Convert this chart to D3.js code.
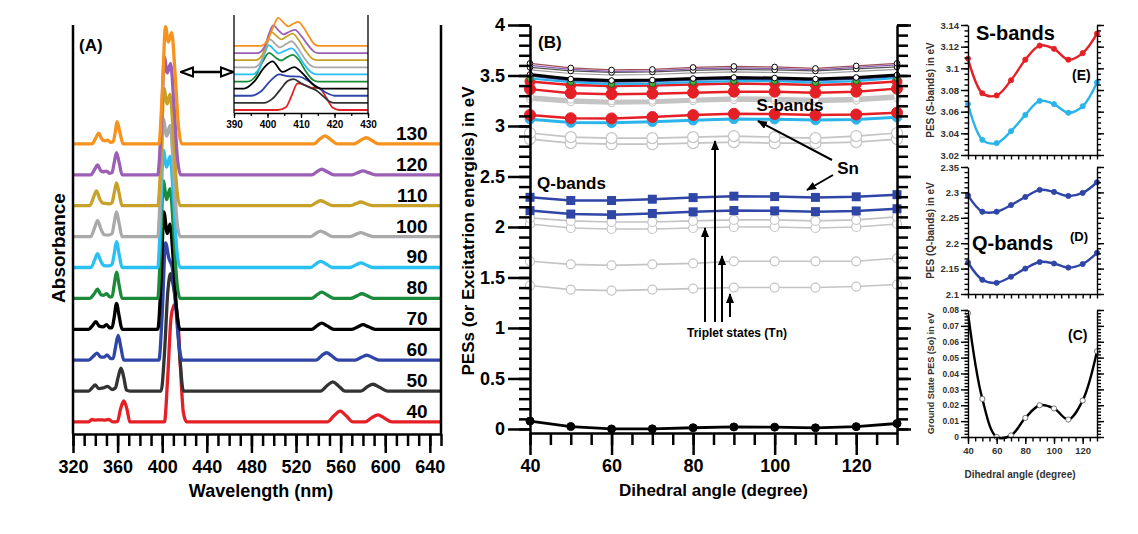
<!DOCTYPE html>
<html><head><meta charset="utf-8">
<script src="https://cdn.jsdelivr.net/npm/d3@7"></script>
<style>
body{margin:0;background:#fff;}
svg{display:block;font-family:"Liberation Sans",Arial,sans-serif;font-weight:bold;}
</style></head><body>
<svg id="c" width="1138" height="534"></svg>
<script>
// ---------------- DATA ----------------
const angles = [40,50,60,70,80,90,100,110,120,130];
const traceColors = ["#e41f26","#333333","#2f46a6","#000000","#1b8a3a","#2ac0f2","#a9a9a9","#c8a228","#9b5fb5","#f7921e"];
const wlTicks = [320,360,400,440,480,520,560,600,640];
const insetTicks = [390,400,410,420,430];

// Panel A spectra: [wavelength nm, absorbance above own baseline]
const s40 = [[320,0],[334,0],[337,0.08],[340,0.06],[344,0.07],[348,0.06],[352,0.08],[356,0],[360,0.02],[362.5,0.4],[365.5,0.68],[368.5,0.4],[371,0],[402,0],[405,1.5],[408,3.4],[411,3.8],[414,3.3],[416,2.0],[419,0.3],[422,0],[548,0],[554,0.2],[559.5,0.35],[565,0.2],[571,0],[582,0],[588,0.14],[593.5,0.23],[599,0.13],[606,0],[650,0]];
const s50 = [[320,0],[334,0],[337,0.1],[340,0.2],[343,0.08],[347,0.1],[351,0.15],[355,0.05],[358,0.1],[360.5,0.45],[363,0.74],[365.5,0.45],[368,0.03],[371,0],[399,0],[402,1.2],[405,3.2],[407.5,3.8],[410,3.4],[413,2.6],[416,1.0],[419,0],[542,0],[548,0.18],[553,0.3],[558,0.17],[564,0],[578,0],[584,0.14],[589,0.22],[595,0.12],[602,0],[650,0]];
const s60 = [[320,0],[334,0],[338,0.12],[341.5,0.23],[345,0.1],[348,0.1],[350.5,0.17],[354,0.05],[356,0.05],[358,0.4],[360.5,0.8],[363,0.4],[365.5,0],[397,0],[400,1.5],[403,3.8],[406,3.3],[409,3.0],[412,1.8],[415,0.5],[418,0],[538,0],[543,0.15],[547.5,0.24],[552,0.14],[558,0],[573,0],[579,0.1],[583.5,0.16],[589,0.08],[595,0],[650,0]];
const s70 = [[320,0],[334,0],[337.5,0.12],[340.5,0.25],[343.5,0.1],[347,0.08],[350,0.15],[353,0.05],[355,0.05],[357,0.4],[359,0.84],[361.5,0.4],[364,0],[396,0],[399,1.6],[401.5,3.8],[404.5,3.1],[407,3.4],[410,2.2],[413,0.6],[416,0],[534,0],[539,0.12],[543,0.2],[548,0.11],[554,0],[570,0],[576,0.09],[580,0.15],[585,0.08],[591,0],[650,0]];
const s80 = [[320,0],[335,0],[339,0.15],[342,0.3],[345,0.12],[347.5,0.1],[350,0.15],[353,0.05],[355,0.05],[357,0.45],[359,0.85],[361.5,0.4],[364,0],[396,0],[398.5,1.6],[401,3.8],[404,3.2],[407,3.55],[410,2.3],[413,0.6],[416,0],[534,0],[539,0.12],[543,0.2],[548,0.11],[554,0],[569,0],[575,0.09],[579,0.15],[584,0.08],[590,0],[650,0]];
const s90 = [[320,0],[336,0],[339.5,0.25],[342,0.45],[345,0.2],[348,0.06],[351,0.05],[353,0.06],[355,0.1],[357,0.45],[359,0.84],[361.5,0.4],[364,0],[396,0],[398.5,1.6],[401,3.8],[404,3.25],[407,3.6],[410,2.3],[413,0.6],[416,0],[533,0],[538,0.12],[542,0.2],[547,0.11],[553,0],[568,0],[574,0.09],[578,0.15],[583,0.08],[589,0],[650,0]];
const s100 = [[320,0],[336,0],[339.5,0.3],[342,0.52],[345,0.25],[348,0.06],[351,0.05],[353,0.06],[355,0.1],[357,0.45],[359,0.8],[361.5,0.4],[364,0],[396,0],[398.5,1.6],[401,3.8],[404,3.25],[407,3.6],[410,2.3],[413,0.6],[416,0],[533,0],[538,0.11],[542,0.18],[547,0.1],[553,0],[568,0],[574,0.08],[578,0.13],[583,0.07],[589,0],[650,0]];
const s110 = [[320,0],[335,0],[338.5,0.28],[341,0.48],[344,0.22],[347,0.08],[350,0.07],[353,0.06],[355,0.1],[357,0.42],[359,0.74],[361.5,0.38],[364,0],[396,0],[399,1.6],[401.5,3.8],[404.5,3.3],[407,3.6],[410,2.3],[413,0.6],[416,0],[533,0],[538,0.1],[542,0.16],[547,0.09],[553,0],[568,0],[574,0.07],[578,0.12],[583,0.06],[589,0],[650,0]];
const s120 = [[320,0],[336,0],[339.5,0.18],[342,0.32],[345,0.13],[347.5,0.1],[350,0.12],[353,0.05],[355,0.07],[357,0.4],[359,0.72],[361.5,0.38],[364,0],[396,0],[399,1.5],[402,3.8],[404.5,3.3],[407.5,3.6],[410.5,2.3],[413.5,0.6],[416.5,0],[534,0],[539,0.11],[543,0.18],[548,0.1],[554,0],[570,0],[576,0.08],[580,0.13],[585,0.07],[591,0],[650,0]];
const s130 = [[320,0],[337,0],[340.5,0.2],[343,0.35],[346,0.15],[348.5,0.1],[351,0.12],[354,0.05],[356,0.08],[358,0.4],[359.5,0.72],[362,0.38],[365,0],[397,0],[400,1.6],[403,3.8],[405.5,3.3],[408.5,3.6],[411.5,2.3],[414.5,0.6],[417.5,0],[536,0],[541,0.15],[546,0.26],[551,0.14],[557,0],[572,0],[578,0.12],[583,0.2],[588,0.11],[594,0],[650,0]];

// Inset (Soret region, normalised)
const i40 = [[390,0],[403,0],[405.5,0.1],[407,0.45],[409,0.95],[411,0.9],[413,0.8],[415.5,0.78],[417.5,0.45],[419.5,0.08],[421.5,0],[430,0]];
const i50 = [[390,0],[399,0],[401.5,0.15],[404,0.5],[406,0.78],[407.8,0.85],[410,0.7],[412.5,0.55],[414.5,0.45],[416.5,0.25],[418.5,0.05],[420,0],[430,0]];
const i60 = [[390,0],[395,0],[398,0.15],[401,0.55],[403.5,0.76],[406,0.7],[409.5,0.68],[412,0.55],[415,0.3],[418,0.08],[420,0],[430,0]];
const i70 = [[390,0],[393,0],[396,0.25],[399,0.75],[401.5,0.97],[404.5,0.6],[408,0.77],[410,0.6],[412,0.35],[414,0.1],[416,0],[430,0]];
const i80 = [[390,0],[394,0],[396.5,0.2],[398.5,0.7],[400.5,1.02],[402.5,0.85],[404,0.75],[406,0.88],[407.5,0.95],[409.5,0.75],[411.5,0.35],[413.5,0.06],[415,0],[430,0]];
const i90 = [[390,0],[395.5,0],[397.5,0.2],[399,0.7],[400.4,1.04],[401.8,0.9],[403.2,0.75],[405.3,0.85],[407.2,0.93],[409,0.72],[411,0.35],[413,0.08],[414.7,0],[430,0]];
const i100 = [[390,0],[396,0],[398,0.2],[399.5,0.7],[400.7,1.0],[402.2,0.85],[403.7,0.71],[405.5,0.83],[407.2,0.93],[409,0.7],[411,0.33],[412.8,0.07],[414.2,0],[430,0]];
const i110 = [[390,0],[396.5,0],[398.5,0.2],[400,0.7],[401.2,1.0],[402.7,0.86],[404.2,0.74],[405.9,0.86],[407.5,0.95],[409.3,0.72],[411.3,0.34],[413.2,0.07],[414.7,0],[430,0]];
const i120 = [[390,0],[397,0],[399,0.2],[400.5,0.7],[401.7,0.99],[403.2,0.82],[404.7,0.67],[406.5,0.76],[408.2,0.83],[410,0.62],[412,0.3],[413.8,0.06],[415.2,0],[430,0]];
const i130 = [[390,0],[398,0],[400,0.2],[401.8,0.7],[403.2,1.0],[404.7,0.84],[406.2,0.7],[407.8,0.8],[409.2,0.86],[410.8,0.65],[412.6,0.3],[414,0.06],[415.3,0],[430,0]];

// Panel B: potential energy surfaces (eV) vs dihedral angle
const groundS0 = [0.078,0.024,0.0,0.001,0.012,0.020,0.018,0.011,0.023,0.054];
const qUpper = [2.294,2.262,2.262,2.275,2.291,2.305,2.301,2.293,2.299,2.32];
const qLower = [2.162,2.128,2.122,2.134,2.15,2.163,2.16,2.152,2.159,2.181];
const sRed = [3.109,3.077,3.075,3.089,3.108,3.121,3.118,3.108,3.114,3.132];
const sCyan = [3.067,3.034,3.031,3.042,3.057,3.07,3.067,3.059,3.065,3.087];
const t1 = [1.42,1.38,1.37,1.38,1.39,1.40,1.40,1.40,1.41,1.43];
const t2 = [1.66,1.63,1.62,1.63,1.64,1.66,1.66,1.66,1.66,1.69];
const t3 = [2.03,1.99,1.98,1.98,1.99,2.00,2.00,1.99,2.00,2.03];
const t4 = [2.09,2.06,2.05,2.05,2.06,2.07,2.07,2.06,2.07,2.10];
const t5 = [2.87,2.83,2.82,2.82,2.83,2.84,2.83,2.83,2.84,2.87];
const t6 = [2.93,2.89,2.88,2.88,2.89,2.90,2.89,2.88,2.90,2.93];
const hGray1 = [3.265,3.235,3.225,3.23,3.245,3.255,3.25,3.24,3.25,3.275];
const hGray2 = [3.29,3.26,3.245,3.25,3.265,3.28,3.275,3.265,3.275,3.3];
const hRed2 = [3.365,3.325,3.315,3.32,3.33,3.34,3.34,3.33,3.34,3.37];
const hRed1 = [3.44,3.405,3.395,3.4,3.41,3.42,3.415,3.405,3.415,3.44];
const hCyan = [3.47,3.435,3.415,3.42,3.435,3.445,3.445,3.43,3.445,3.475];
const hBlue = [3.495,3.45,3.435,3.44,3.455,3.465,3.46,3.45,3.465,3.49];
const hBlack = [3.51,3.465,3.45,3.455,3.47,3.48,3.475,3.465,3.48,3.505];
const hThinD = [3.555,3.52,3.505,3.51,3.525,3.535,3.53,3.52,3.54,3.56];
const hThinC = [3.58,3.545,3.53,3.535,3.55,3.56,3.555,3.545,3.565,3.585];
const hThinB = [3.60,3.56,3.54,3.545,3.565,3.575,3.57,3.555,3.58,3.605];
const hThinA = [3.62,3.575,3.555,3.56,3.58,3.59,3.585,3.57,3.595,3.62];

const bYTicks = [0,0.5,1,1.5,2,2.5,3,3.5,4];
const bXTicks = [40,60,80,100,120];
const eTicks = [3.02,3.04,3.06,3.08,3.1,3.12,3.14];
const dTicks = [2.1,2.15,2.2,2.25,2.3,2.35];
const cTicks = [0,0.01,0.02,0.03,0.04,0.05,0.06,0.07,0.08];

// ---------------- DRAW ----------------
const svg = d3.select("#c");

const defs = svg.append("defs");
defs.append("marker").attr("id","ah").attr("viewBox","0 0 10 8").attr("refX",9).attr("refY",4)
  .attr("markerWidth",10).attr("markerHeight",8).attr("markerUnits","userSpaceOnUse").attr("orient","auto")
  .append("path").attr("d","M0,0L10,4L0,8Z").attr("fill","#000");
defs.append("marker").attr("id","oh").attr("viewBox","0 0 14 12").attr("refX",13).attr("refY",6)
  .attr("markerWidth",14).attr("markerHeight",12).attr("markerUnits","userSpaceOnUse").attr("orient","auto-start-reverse")
  .append("path").attr("d","M1,1.5L13,6L1,10.5Z").attr("fill","#fff").attr("stroke","#000").attr("stroke-width",2);

function styleAxis(g, w){
  g.selectAll("path,line").attr("stroke","#000").attr("stroke-width",w);
  g.selectAll("text").attr("fill","#000").attr("font-family","Liberation Sans, Arial, sans-serif").attr("font-weight","bold");
}

// ===== Panel A =====
const xA = d3.scaleLinear().domain([320,650]).range([73,441]);
const yA = d3.scaleLinear().domain([-0.39,12.85]).range([434,25]);
const spectra = [s40,s50,s60,s70,s80,s90,s100,s110,s120,s130];
const gA = svg.append("g");
spectra.forEach((s,i)=>{
  const ln = d3.line().x(d=>xA(d[0])).y(d=>yA(d[1]+i)).curve(d3.curveMonotoneX);
  gA.append("path").attr("d",ln(s)).attr("fill","none").attr("stroke",traceColors[i]).attr("stroke-width",3.3).attr("stroke-linejoin","round");
});
angles.forEach((a,i)=>{
  gA.append("text").attr("x",xA(630)+9).attr("y",yA(i)-4).attr("text-anchor","end").attr("font-size",19).text(a);
});
gA.append("line").attr("x1",xA(320)).attr("x2",xA(320)).attr("y1",yA(12.85)).attr("y2",yA(-0.39)).attr("stroke","#000").attr("stroke-width",2.5);
gA.append("line").attr("x1",xA(650)).attr("x2",xA(650)).attr("y1",yA(12.85)).attr("y2",yA(-0.39)).attr("stroke","#000").attr("stroke-width",2.5);
const axAminor = svg.append("g").attr("transform",`translate(0,${yA(-0.39)})`)
  .call(d3.axisBottom(xA).tickValues(d3.range(320,651,10)).tickSize(12).tickSizeOuter(0).tickFormat(""));
styleAxis(axAminor,2.5);
const axAmajor = svg.append("g").attr("transform",`translate(0,${yA(-0.39)})`)
  .call(d3.axisBottom(xA).tickValues(wlTicks).tickSize(19).tickSizeOuter(0).tickPadding(7).tickFormat(d=>d));
styleAxis(axAmajor,2.5);
axAmajor.selectAll("text").attr("font-size",18);
axAmajor.select(".domain").remove();
svg.append("text").attr("x",(xA(320)+xA(650))/2+4).attr("y",497).attr("text-anchor","middle").attr("font-size",18).text("Wavelength (nm)");
svg.append("text").attr("transform",`translate(65,248) rotate(-90)`).attr("text-anchor","middle").attr("font-size",19).text("Absorbance");
svg.append("text").attr("x",79).attr("y",51).attr("font-size",17).text("(A)");

// inset
const xI = d3.scaleLinear().domain([390,430]).range([234,368]);
const yI = d3.scaleLinear().domain([-0.107,3.39]).range([113,15]);
const insets = [i40,i50,i60,i70,i80,i90,i100,i110,i120,i130];
insets.forEach((s,i)=>{
  const ln = d3.line().x(d=>xI(d[0])).y(d=>yI(d[1]+i*0.254)).curve(d3.curveMonotoneX);
  svg.append("path").attr("d",ln(s)).attr("fill","none").attr("stroke",traceColors[i]).attr("stroke-width",1.8);
});
svg.append("line").attr("x1",xI(390)).attr("x2",xI(390)).attr("y1",yI(3.39)).attr("y2",yI(-0.107)).attr("stroke","#000").attr("stroke-width",1.3);
svg.append("line").attr("x1",xI(430)).attr("x2",xI(430)).attr("y1",yI(3.39)).attr("y2",yI(-0.107)).attr("stroke","#000").attr("stroke-width",1.3);
const axI1 = svg.append("g").attr("transform",`translate(0,${yI(-0.107)})`)
  .call(d3.axisBottom(xI).tickValues(d3.range(390,431,5)).tickSize(3).tickSizeOuter(0).tickFormat(""));
styleAxis(axI1,1.3);
const axI2 = svg.append("g").attr("transform",`translate(0,${yI(-0.107)})`)
  .call(d3.axisBottom(xI).tickValues(insetTicks).tickSize(5).tickSizeOuter(0).tickPadding(3).tickFormat(d=>d));
styleAxis(axI2,1.3);
axI2.selectAll("text").attr("font-size",10);
axI2.select(".domain").remove();
svg.append("line").attr("x1",181).attr("x2",233).attr("y1",72).attr("y2",72).attr("stroke","#000").attr("stroke-width",2.5)
  .attr("marker-start","url(#oh)").attr("marker-end","url(#oh)");

// ===== Panel B =====
const xB = d3.scaleLinear().domain([40,130]).range([530,897]);
const yB = d3.scaleLinear().domain([-0.04,4]).range([433,25]);
const gB = svg.append("g");
function seriesB(vals, o){
  const pts = vals.map((v,i)=>[angles[i],v]);
  const ln = d3.line().x(d=>xB(d[0])).y(d=>yB(d[1]));
  gB.append("path").attr("d",ln(pts)).attr("fill","none").attr("stroke",o.stroke).attr("stroke-width",o.w);
  if(o.marker==="circle"){
    gB.selectAll(null).data(pts).enter().append("circle").attr("cx",d=>xB(d[0])).attr("cy",d=>yB(d[1]))
      .attr("r",o.r).attr("fill",o.fill).attr("stroke",o.mstroke).attr("stroke-width",o.mw||1);
  } else if(o.marker==="square"){
    gB.selectAll(null).data(pts).enter().append("rect").attr("x",d=>xB(d[0])-o.r).attr("y",d=>yB(d[1])-o.r)
      .attr("width",2*o.r).attr("height",2*o.r).attr("fill",o.fill);
  }
}
const triStyle = {stroke:"#c4c4c4",w:1.6,marker:"circle",r:4.5,fill:"#fff",mstroke:"#c4c4c4",mw:1.2};
seriesB(t1,triStyle); seriesB(t2,triStyle); seriesB(t3,triStyle); seriesB(t4,triStyle);
seriesB(t5,Object.assign({},triStyle,{r:5.5})); seriesB(t6,Object.assign({},triStyle,{r:5.5}));
seriesB(qLower,{stroke:"#2f46a6",w:2.5,marker:"square",r:4.5,fill:"#2f46a6"});
seriesB(qUpper,{stroke:"#2f46a6",w:2.5,marker:"square",r:4.5,fill:"#2f46a6"});
seriesB(hGray1,{stroke:"#c4c4c4",w:3,marker:"circle",r:3.5,fill:"#fff",mstroke:"#c4c4c4"});
seriesB(hGray2,{stroke:"#c4c4c4",w:3,marker:"circle",r:3.5,fill:"#fff",mstroke:"#c4c4c4"});
seriesB(sCyan,{stroke:"#2ab4ea",w:3,marker:"circle",r:4.8,fill:"#2ab4ea",mstroke:"#2ab4ea"});
seriesB(sRed,{stroke:"#e41f26",w:2.5,marker:"circle",r:5.5,fill:"#e41f26",mstroke:"#e41f26"});
seriesB(hRed2,{stroke:"#e41f26",w:2.5,marker:"circle",r:5.5,fill:"#e41f26",mstroke:"#e41f26"});
seriesB(hRed1,{stroke:"#e41f26",w:2.5,marker:"circle",r:5,fill:"#e41f26",mstroke:"#e41f26"});
seriesB(hCyan,{stroke:"#2ab4ea",w:2.2,marker:"circle",r:3.2,fill:"#4cae3c",mstroke:"#1d5e1d"});
seriesB(hBlue,{stroke:"#2f46a6",w:1.5});
seriesB(hBlack,{stroke:"#000",w:3,marker:"circle",r:2.8,fill:"#fff",mstroke:"#000"});
seriesB(hThinD,{stroke:"#9a9a9a",w:1.2});
seriesB(hThinC,{stroke:"#555",w:1.2,marker:"circle",r:2.8,fill:"#fff",mstroke:"#000"});
seriesB(hThinB,{stroke:"#8a5fb0",w:1.3});
seriesB(hThinA,{stroke:"#a0505a",w:1.2,marker:"circle",r:2.8,fill:"#fff",mstroke:"#000"});
seriesB(groundS0,{stroke:"#000",w:2.8,marker:"circle",r:4,fill:"#000",mstroke:"#000"});

const axBLmin = svg.append("g").attr("transform",`translate(${xB(40)},0)`)
  .call(d3.axisLeft(yB).tickValues(d3.range(0,41,1).map(v=>v/10)).tickSize(11).tickSizeOuter(0).tickFormat(""));
styleAxis(axBLmin,2.5);
const axBL = svg.append("g").attr("transform",`translate(${xB(40)},0)`)
  .call(d3.axisLeft(yB).tickValues(bYTicks).tickSize(22).tickSizeOuter(0).tickPadding(3).tickFormat(d=>d));
styleAxis(axBL,2.5); axBL.select(".domain").remove(); axBL.selectAll("text").attr("font-size",18);
const axBRmin = svg.append("g").attr("transform",`translate(${xB(130)},0)`)
  .call(d3.axisRight(yB).tickValues(d3.range(0,41,1).map(v=>v/10)).tickSize(11).tickSizeOuter(0).tickFormat(""));
styleAxis(axBRmin,2.5);
const axBR = svg.append("g").attr("transform",`translate(${xB(130)},0)`)
  .call(d3.axisRight(yB).tickValues(bYTicks).tickSize(14).tickSizeOuter(0).tickFormat(""));
styleAxis(axBR,2.5); axBR.select(".domain").remove();
const axBBmin = svg.append("g").attr("transform",`translate(0,${yB(-0.04)})`)
  .call(d3.axisBottom(xB).tickValues(d3.range(40,131,5)).tickSize(12).tickSizeOuter(0).tickFormat(""));
styleAxis(axBBmin,2.5);
const axBB = svg.append("g").attr("transform",`translate(0,${yB(-0.04)})`)
  .call(d3.axisBottom(xB).tickValues(bXTicks).tickSize(22).tickSizeOuter(0).tickPadding(4).tickFormat(d=>d));
styleAxis(axBB,2.5); axBB.select(".domain").remove(); axBB.selectAll("text").attr("font-size",18);

svg.append("text").attr("x",(xB(40)+xB(130))/2).attr("y",496).attr("text-anchor","middle").attr("font-size",17).text("Dihedral angle (degree)");
svg.append("text").attr("transform",`translate(474,231) rotate(-90)`).attr("text-anchor","middle").attr("font-size",17).text("PESs (or Excitatrion energies) in eV");
svg.append("text").attr("x",538).attr("y",48).attr("font-size",17).text("(B)");
svg.append("text").attr("x",790).attr("y",111).attr("text-anchor","middle").attr("font-size",17).text("S-bands");
svg.append("text").attr("x",537).attr("y",189).attr("font-size",17).text("Q-bands");
svg.append("text").attr("x",848).attr("y",174).attr("text-anchor","middle").attr("font-size",17).text("Sn");
svg.append("text").attr("x",737).attr("y",337).attr("text-anchor","middle").attr("font-size",12).text("Triplet states (Tn)");
const arrows = [[832,160,758,121],[833,175,807,190],[705,322,705,228],[715,322,715,141],[722,322,722,256],[730,317,730,294]];
arrows.forEach(a=>{
  svg.append("line").attr("x1",a[0]).attr("y1",a[1]).attr("x2",a[2]).attr("y2",a[3])
    .attr("stroke","#000").attr("stroke-width",2).attr("marker-end","url(#ah)");
});

// ===== Small panels E, D, C =====
const xS = d3.scaleLinear().domain([40,130]).range([968,1097]);
function smallPanel(opts){
  const y = d3.scaleLinear().domain(opts.domain).range(opts.range);
  const g = svg.append("g");
  opts.series.forEach(s=>{
    const pts = s.vals.map((v,i)=>[angles[i],v]);
    const ln = d3.line().x(d=>xS(d[0])).y(d=>y(d[1])).curve(d3.curveCatmullRom.alpha(0.5));
    g.append("path").attr("d",ln(pts)).attr("fill","none").attr("stroke",s.color).attr("stroke-width",s.w);
    g.selectAll(null).data(pts).enter().append("circle").attr("cx",d=>xS(d[0])).attr("cy",d=>y(d[1]))
      .attr("r",2.6).attr("fill",s.mfill).attr("stroke",s.mstroke).attr("stroke-width",0.8);
  });
  const minorVals = d3.range(0, Math.round((opts.domain[1]-opts.domain[0])/opts.minor)+1).map(k=>opts.domain[0]+k*opts.minor);
  const l1 = svg.append("g").attr("transform",`translate(${xS(40)},0)`)
    .call(d3.axisLeft(y).tickValues(minorVals).tickSize(3.5).tickSizeOuter(0).tickFormat(""));
  styleAxis(l1,1.4);
  const l2 = svg.append("g").attr("transform",`translate(${xS(40)},0)`)
    .call(d3.axisLeft(y).tickValues(opts.ticks).tickSize(7).tickSizeOuter(0).tickPadding(2).tickFormat(d=>d));
  styleAxis(l2,1.4); l2.select(".domain").remove();
  l2.selectAll("text").attr("font-size",opts.fs).attr("fill","#333");
  const r1 = svg.append("g").attr("transform",`translate(${xS(130)},0)`)
    .call(d3.axisRight(y).tickValues(minorVals).tickSize(4).tickSizeOuter(0).tickFormat(""));
  styleAxis(r1,1.4);
  const r2 = svg.append("g").attr("transform",`translate(${xS(130)},0)`)
    .call(d3.axisRight(y).tickValues(opts.ticks).tickSize(7).tickSizeOuter(0).tickFormat(""));
  styleAxis(r2,1.4); r2.select(".domain").remove();
  const b1 = svg.append("g").attr("transform",`translate(0,${opts.range[0]})`)
    .call(d3.axisBottom(xS).tickValues(d3.range(40,131,5)).tickSize(4.5).tickSizeOuter(0).tickFormat(""));
  styleAxis(b1,1.4);
  if(opts.xlabels){
    const b2 = svg.append("g").attr("transform",`translate(0,${opts.range[0]})`)
      .call(d3.axisBottom(xS).tickValues(bXTicks).tickSize(7).tickSizeOuter(0).tickPadding(3).tickFormat(d=>d));
    styleAxis(b2,1.4); b2.select(".domain").remove();
    b2.selectAll("text").attr("font-size",9.5).attr("fill","#333");
  }
  svg.append("text").attr("transform",`translate(${opts.lx},${(opts.range[0]+opts.range[1])/2}) rotate(-90)`)
    .attr("text-anchor","middle").attr("font-size",opts.lfs).attr("fill","#333").text(opts.label);
  return y;
}
smallPanel({domain:[3.02,3.14],range:[155,25],ticks:eTicks,minor:0.005,fs:9.5,lx:934,lfs:10,
  label:"PES (S-bands) in eV",
  series:[{vals:sRed,color:"#e41f26",w:2.4,mfill:"#e41f26",mstroke:"#e41f26"},{vals:sCyan,color:"#2ab4ea",w:2.4,mfill:"#2ab4ea",mstroke:"#2ab4ea"}]});
smallPanel({domain:[2.1,2.35],range:[294,167],ticks:dTicks,minor:0.01,fs:9.5,lx:934,lfs:10,
  label:"PES (Q-bands) in eV",
  series:[{vals:qUpper,color:"#2f46a6",w:2.4,mfill:"#2f46a6",mstroke:"#2f46a6"},{vals:qLower,color:"#2f46a6",w:2.4,mfill:"#2f46a6",mstroke:"#2f46a6"}]});
smallPanel({domain:[0,0.08],range:[437,310],ticks:cTicks,minor:0.002,fs:8.5,lx:934,lfs:9,xlabels:true,
  label:"Ground State PES (So) in eV",
  series:[{vals:groundS0,color:"#000",w:2.4,mfill:"#fff",mstroke:"#555"}]});
svg.append("text").attr("x",976).attr("y",40).attr("font-size",20).text("S-bands");
svg.append("text").attr("x",1072).attr("y",80).attr("font-size",14).text("(E)");
svg.append("text").attr("x",972).attr("y",250).attr("font-size",20).text("Q-bands");
svg.append("text").attr("x",1070).attr("y",241).attr("font-size",13).text("(D)");
svg.append("text").attr("x",1068).attr("y",340).attr("font-size",14).text("(C)");
svg.append("text").attr("x",1020).attr("y",478).attr("text-anchor","middle").attr("font-size",10).attr("fill","#333").text("Dihedral angle (degree)");
</script>
</body></html>
